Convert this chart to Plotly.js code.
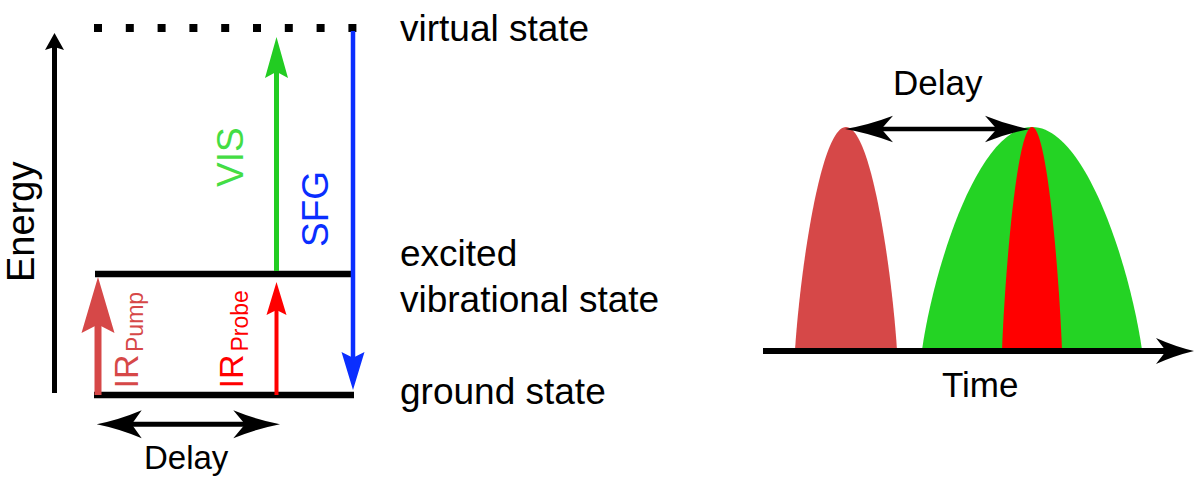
<!DOCTYPE html>
<html>
<head>
<meta charset="utf-8">
<script src="https://cdn.plot.ly/plotly-3.0.1.min.js"></script>
<style>html,body{margin:0;padding:0;background:#fff;}#chart{width:1194px;height:479px;}</style>
</head>
<body>
<div id="chart"></div>
<script>
// ---------- data (diagram coordinates in a 1194 x 479 frame, y downwards) ----------
const levelKeys   = ['virtual', 'excited', 'ground'];
const levelY      = [28, 274, 395];
const levelX0     = [94, 95, 94];
const levelX1     = [357, 354, 354];

const levelLabels = ['virtual state', 'excited', 'vibrational state', 'ground state'];
const levelLabelY = [28, 253, 299, 391];
const levelLabelX = 398;

const transNames  = ['IR Pump', 'IR Probe', 'VIS', 'SFG'];
const transX      = [98, 276.5, 276.5, 353];
const transFrom   = [395, 395, 271, 31];
const transTip    = [277, 282, 37, 390];
const transColors = ['#d64848', '#ff0000', '#22cc22', '#0a2eff'];
const transWidth  = [7, 4, 5, 4.5];
const transHeadL  = [56, 33, 41, 38];
const transHeadW  = [16.5, 10, 11.5, 11.5];

const transLabelMain = ['IR', 'IR', 'VIS', 'SFG'];
const transLabelSub  = ['Pump', 'Probe', '', ''];
const transLabelX    = [125, 230, 230, 315];
const transLabelY    = [371.5, 371.5, 157, 209];
const transSubX      = [135, 239, 0, 0];
const transSubY      = [322, 321.5, 0, 0];
const transLabelColors = ['#d64848', '#ff0000', '#44dd44', '#0a2eff'];

const pulseNames  = ['IR Pump', 'VIS', 'IR Probe'];
const pulseStart  = [795, 922, 1002];
const pulseEnd    = [897, 1142, 1062];
const pulsePeakY  = [127, 127, 127];
const pulseBaseY  = 350;
const pulseColors = ['#d64848', '#24d324', '#ff0000'];

// ---------- helpers ----------
const FONT = 'Liberation Sans, Arial, sans-serif';
function head(tx, ty, dx, dy, len, half, notch, curve) {
  curve = curve || 0;
  const bx = tx - dx * len, by = ty - dy * len;
  const px = -dy, py = dx;
  const c1 = [bx + px * half, by + py * half];
  const c2 = [bx - px * half, by - py * half];
  const n = [tx - dx * (len - notch), ty - dy * (len - notch)];
  let path;
  if (curve) {
    const m1 = [(tx + c1[0]) / 2 - px * curve, (ty + c1[1]) / 2 - py * curve];
    const m2 = [(tx + c2[0]) / 2 + px * curve, (ty + c2[1]) / 2 + py * curve];
    path = `M${tx},${ty} Q${m1[0]},${m1[1]} ${c1[0]},${c1[1]} L${n[0]},${n[1]} L${c2[0]},${c2[1]} Q${m2[0]},${m2[1]} ${tx},${ty} Z`;
  } else {
    path = `M${tx},${ty} L${c1[0]},${c1[1]} L${n[0]},${n[1]} L${c2[0]},${c2[1]} Z`;
  }
  return {type: 'path', xref: 'x', yref: 'y', path, fillcolor: 'black', line: {width: 0}};
}
function colored(s, c) { s.fillcolor = c; return s; }
function line(x0, y0, x1, y1, color, width, dash) {
  return {type: 'line', xref: 'x', yref: 'y', x0, y0, x1, y1,
    line: {color, width, dash: dash || 'solid'}};
}

const shapes = [];
const annotations = [];

// energy axis
shapes.push(line(54.5, 393, 54.5, 45, 'black', 5));
shapes.push(head(54.5, 33, 0, -1, 17, 9.5, 3));

// levels
levelKeys.forEach((k, i) => {
  if (k === 'virtual') {
    shapes.push(line(levelX0[i], levelY[i], levelX1[i], levelY[i], 'black', 8, '8px,23.8px'));
  } else {
    shapes.push(line(levelX0[i], levelY[i], levelX1[i], levelY[i], 'black', 6.5));
  }
});
levelLabels.forEach((t, i) => {
  annotations.push({xref: 'x', yref: 'y', x: levelLabelX, y: levelLabelY[i], text: t,
    showarrow: false, xanchor: 'left', yanchor: 'middle',
    font: {family: FONT, size: 37, color: 'black'}});
});

// transitions
transNames.forEach((n, i) => {
  const dir = transTip[i] < transFrom[i] ? -1 : 1;
  const notch = transHeadL[i] * 0.15;
  const lineEnd = transTip[i] - dir * (transHeadL[i] - notch - 1);
  shapes.push(line(transX[i], transFrom[i], transX[i], lineEnd, transColors[i], transWidth[i]));
  shapes.push(colored(head(transX[i], transTip[i], 0, dir, transHeadL[i], transHeadW[i], notch), transColors[i]));
  annotations.push({xref: 'x', yref: 'y', x: transLabelX[i], y: transLabelY[i], text: transLabelMain[i],
    showarrow: false, xanchor: 'center', yanchor: 'middle', textangle: -90,
    font: {family: FONT, size: transLabelSub[i] ? 34 : 37, color: transLabelColors[i]}});
  if (transLabelSub[i]) {
    annotations.push({xref: 'x', yref: 'y', x: transSubX[i], y: transSubY[i], text: transLabelSub[i],
      showarrow: false, xanchor: 'center', yanchor: 'middle', textangle: -90,
      font: {family: FONT, size: 23, color: transLabelColors[i]}});
  }
});

// Energy label
annotations.push({xref: 'x', yref: 'y', x: 21, y: 222, text: 'Energy', showarrow: false,
  textangle: -90, xanchor: 'center', yanchor: 'middle', font: {family: FONT, size: 38, color: 'black'}});

// bottom delay arrow (left panel)
shapes.push(line(120, 424.3, 256, 424.3, 'black', 5));
shapes.push(head(96.7, 424.3, -1, 0, 45, 14, 10, 2.5));
shapes.push(head(280, 424.3, 1, 0, 46.7, 14, 11.7, 2.5));
annotations.push({xref: 'x', yref: 'y', x: 186, y: 457, text: 'Delay', showarrow: false,
  xanchor: 'center', yanchor: 'middle', font: {family: FONT, size: 33, color: 'black'}});

// pulses (right panel): smooth humps as cubic Bezier paths
pulseNames.forEach((n, i) => {
  const x0 = pulseStart[i], x1 = pulseEnd[i];
  const xc = (x0 + x1) / 2, w = (x1 - x0) / 2;
  const yb = pulseBaseY, yp = pulsePeakY[i], h = yb - yp;
  const path = `M${x0},${yb} C${x0 + 0.1 * w},${yb - 0.35 * h} ${xc - 0.5 * w},${yp} ${xc},${yp} ` +
               `C${xc + 0.5 * w},${yp} ${x1 - 0.1 * w},${yb - 0.35 * h} ${x1},${yb} Z`;
  shapes.push({type: 'path', xref: 'x', yref: 'y', path, fillcolor: pulseColors[i], line: {width: 0}});
});

// time axis
shapes.push(line(763, 351, 1170, 351, 'black', 6));
shapes.push(head(1194, 351, 1, 0, 38, 13, 10, 2));
annotations.push({xref: 'x', yref: 'y', x: 980, y: 384, text: 'Time', showarrow: false,
  xanchor: 'center', yanchor: 'middle', font: {family: FONT, size: 35, color: 'black'}});

// top delay arrow (right panel)
shapes.push(line(870, 129, 1005, 129, 'black', 4.5));
shapes.push(head(845, 129, -1, 0, 48, 13.3, 11.6, 2.5));
shapes.push(head(1030, 129, 1, 0, 45, 13.3, 11.7, 2.5));
annotations.push({xref: 'x', yref: 'y', x: 938, y: 82.5, text: 'Delay', showarrow: false,
  xanchor: 'center', yanchor: 'middle', font: {family: FONT, size: 35, color: 'black'}});

const layout = {
  width: 1194, height: 479,
  margin: {l: 0, r: 0, t: 0, b: 0},
  paper_bgcolor: 'white', plot_bgcolor: 'white',
  showlegend: false,
  xaxis: {range: [0, 1194], visible: false, fixedrange: true},
  yaxis: {range: [479, 0], visible: false, fixedrange: true},
  shapes, annotations
};
Plotly.newPlot('chart', [], layout, {displayModeBar: false, staticPlot: true});
</script>
</body>
</html>
